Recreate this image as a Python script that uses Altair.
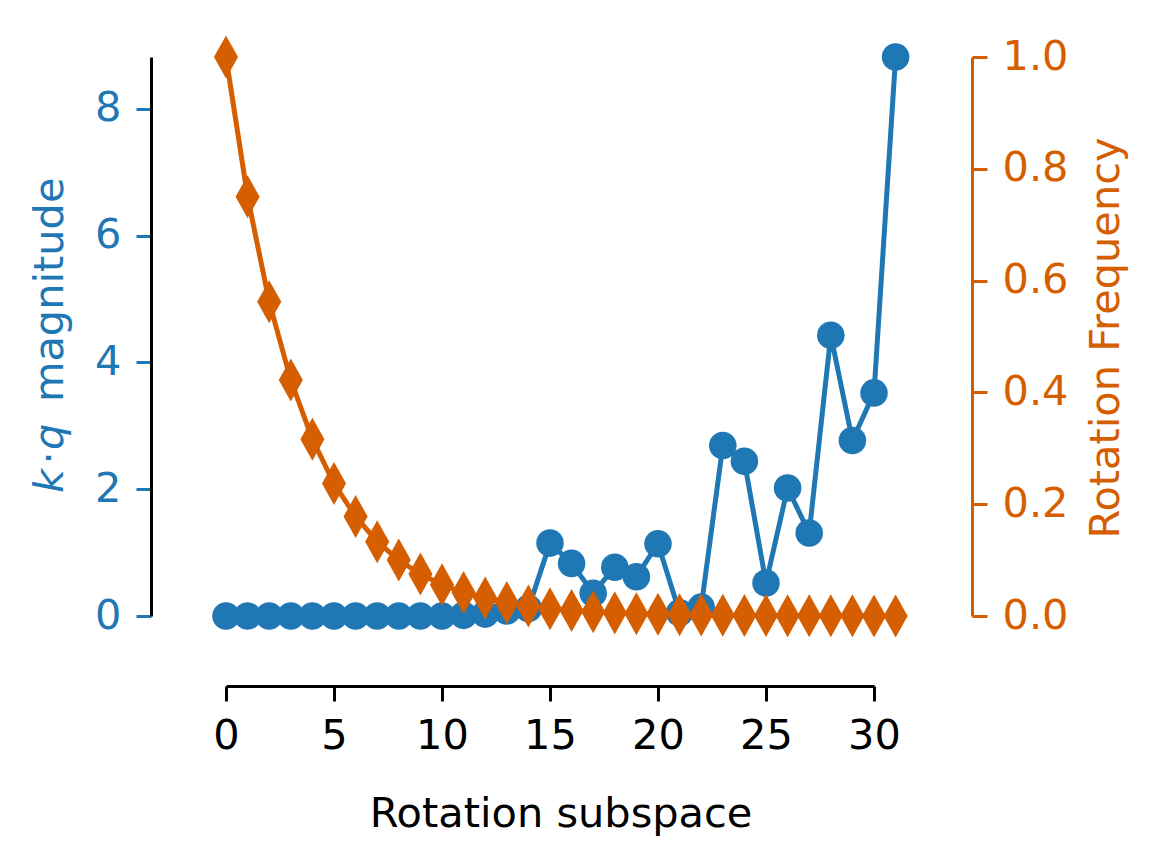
import altair as alt
import pandas as pd

subspace = list(range(32))
kq_magnitude = [0.0, 0.0, 0.0, 0.0, 0.0, 0.0, 0.0, 0.0, 0.0, 0.0, 0.0, 0.01,
                0.03, 0.08, 0.12, 1.15, 0.83, 0.36, 0.77, 0.62, 1.14, 0.05,
                0.14, 2.69, 2.44, 0.52, 2.02, 1.31, 4.43, 2.77, 3.52, 8.82]
rotation_freq = [1.0, 0.75, 0.562, 0.422, 0.316, 0.237, 0.178, 0.133, 0.1,
                 0.075, 0.056, 0.042, 0.032, 0.024, 0.018, 0.013, 0.010,
                 0.0075, 0.0056, 0.0042, 0.0032, 0.0024, 0.0018, 0.0013,
                 0.0010, 0.00075, 0.00056, 0.00042, 0.00032, 0.00024,
                 0.00018, 0.00013]

BLUE = "#1f77b4"
ORANGE = "#d55e00"
FONT = "DejaVu Sans"
FS = 41.5

df = pd.DataFrame({"x": subspace, "kq": kq_magnitude, "freq": rotation_freq})

xenc = alt.X("x:Q", scale=alt.Scale(domain=[0, 30], nice=False, zero=False),
             axis=alt.Axis(values=[0, 5, 10, 15, 20, 25, 30], offset=70, title=None,
                           grid=False, domainColor="black", domainWidth=3,
                           tickColor="black", tickWidth=3, tickSize=15,
                           labelColor="black", labelFont=FONT, labelFontSize=FS,
                           labelPadding=14, labelFlush=False))

y_left = alt.Y("kq:Q", scale=alt.Scale(domain=[0, 8.82], nice=False),
               axis=alt.Axis(values=[0, 2, 4, 6, 8], offset=75, title=None, grid=False,
                             domainColor="black", domainWidth=3,
                             tickColor=BLUE, tickWidth=3, tickSize=15,
                             labelColor=BLUE, labelFont=FONT, labelFontSize=FS,
                             labelPadding=15, labelFlush=False))

y_right = alt.Y("freq:Q", scale=alt.Scale(domain=[0, 1.0], nice=False),
                axis=alt.Axis(orient="right", values=[0, 0.2, 0.4, 0.6, 0.8, 1.0],
                              format=".1f", offset=98, title=None, grid=False,
                              domainColor=ORANGE, domainWidth=3,
                              tickColor=ORANGE, tickWidth=3, tickSize=15,
                              labelColor=ORANGE, labelFont=FONT, labelFontSize=FS,
                              labelPadding=15, labelFlush=False))

base = alt.Chart(df)
blue = alt.layer(
    base.mark_line(color=BLUE, strokeWidth=5).encode(x=xenc, y=y_left),
    base.mark_point(shape="circle", filled=True, color=BLUE, opacity=1, size=760).encode(x=xenc, y=y_left),
)
orange = alt.layer(
    base.mark_line(color=ORANGE, strokeWidth=5).encode(x=xenc, y=y_right),
    base.mark_point(shape="M0,-1L0.56,0L0,1L-0.56,0Z", filled=True, color=ORANGE,
                    opacity=1, size=1850).encode(x=xenc, y=y_right),
)

one = pd.DataFrame({"a": [0]})
def txt(s, x, y, angle=0, align="center", color="black", style="normal"):
    return alt.Chart(one).mark_text(text=s, angle=angle, align=align, baseline="alphabetic",
                                    font=FONT, fontSize=FS, color=color, fontStyle=style).encode(
        x=alt.value(x), y=alt.value(y))

titles = [
    txt("k", -163, 436, angle=270, align="left", color=BLUE, style="italic"),
    txt("·", -163, 401, angle=270, align="center", color=BLUE),
    txt("q", -163, 393, angle=270, align="left", color=BLUE, style="italic"),
    txt("magnitude", -163, 345, angle=270, align="left", color=BLUE),
    txt("Rotation Frequency", 893, 281, angle=270, align="center", color=ORANGE),
    txt("Rotation subspace", 335, 770, align="center", color="black"),
]

chart = alt.layer(blue, orange, *titles).resolve_scale(y="independent").properties(
    width=648, height=559,
    background="white",
    autosize=alt.AutoSizeParams(type="none"),
    padding={"left": 218, "top": 49, "right": 265, "bottom": 240},
).configure_view(strokeWidth=0, stroke="transparent")

chart.save("out.html", embed_options={"renderer": "svg", "actions": False})
